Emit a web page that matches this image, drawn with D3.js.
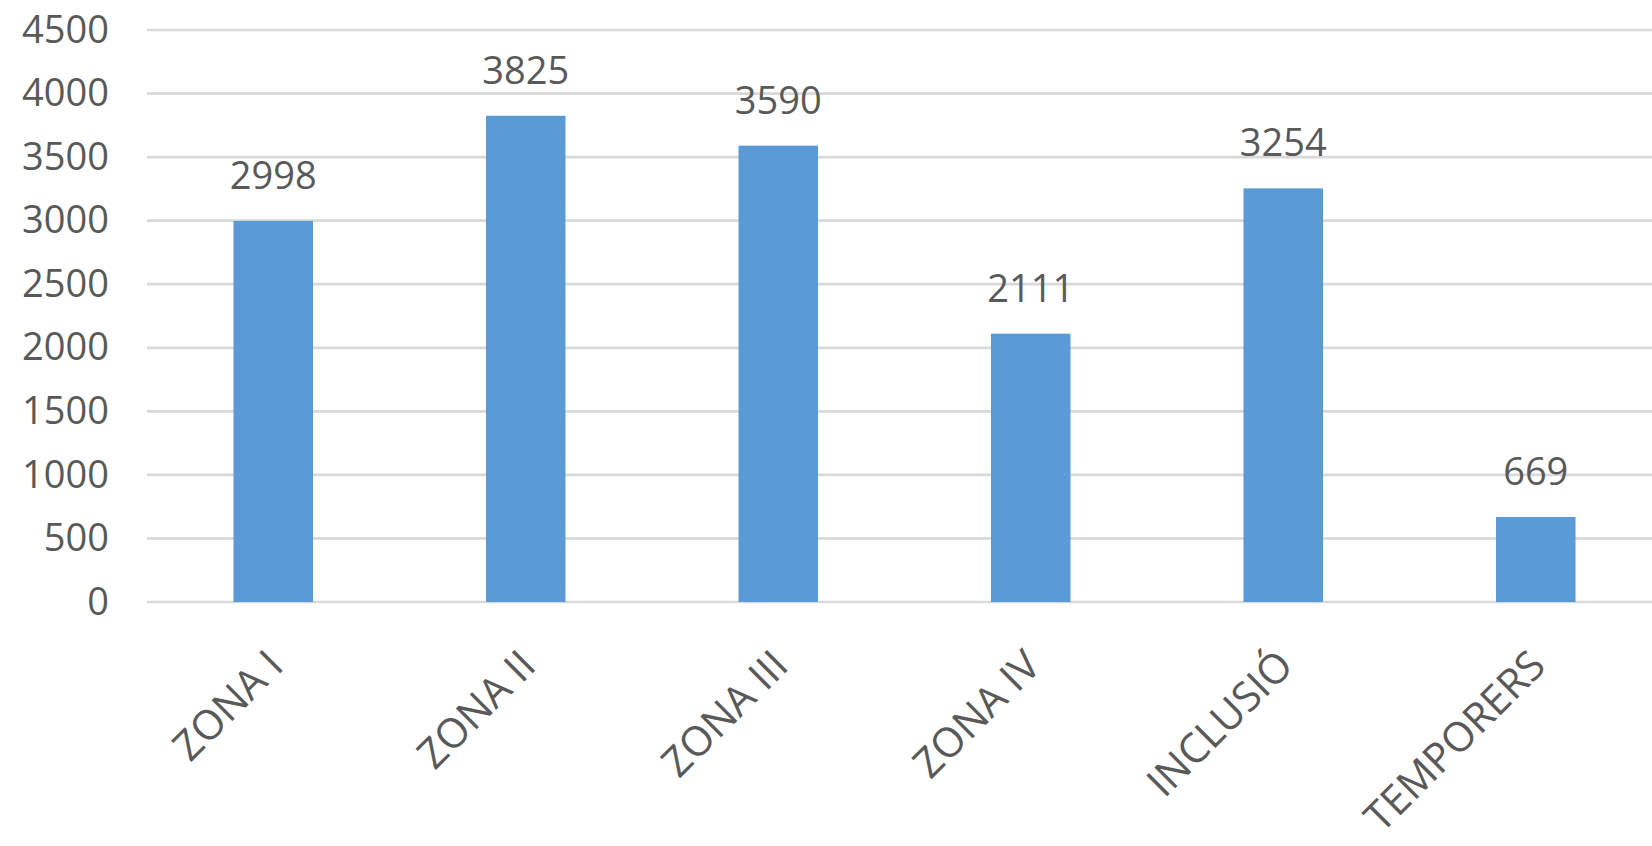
<!DOCTYPE html>
<html>
<head>
<meta charset="utf-8">
<script src="https://cdn.jsdelivr.net/npm/d3@7"></script>
<style>
  body { margin: 0; background: #fff; }
  text { font-family: "Open Sans", sans-serif; fill: #595959; }
  .domain { display: none; }
</style>
</head>
<body>
<script>
// chart data
const categories = ["ZONA I", "ZONA II", "ZONA III", "ZONA IV", "INCLUSIÓ", "TEMPORERS"]
const values = [2998, 3825, 3590, 2111, 3254, 669]
const yTicks = [0, 500, 1000, 1500, 2000, 2500, 3000, 3500, 4000, 4500]

const width = 1652, height = 846
const margin = {top: 30, right: -10, bottom: 244, left: 147}

const svg = d3.select('body').append('svg')
    .attr('width', width)
    .attr('height', height)

// x scale: one band per category
const xScale = d3.scaleBand()
    .domain(categories)
    .range([margin.left, width - margin.right])
    .paddingInner(0.685)
    .paddingOuter(0.3425)

// y scale
const yScale = d3.scaleLinear()
    .domain([0, 4500])
    .range([height - margin.bottom, margin.top])

// gridlines
svg.append('g')
    .selectAll('line')
    .data(yTicks)
    .enter()
    .append('line')
        .attr('x1', margin.left)
        .attr('x2', width - margin.right)
        .attr('y1', d => yScale(d))
        .attr('y2', d => yScale(d))
        .attr('stroke', '#d9d9d9')
        .attr('stroke-width', 2.7)

// y axis labels
svg.append('g')
    .attr('transform', 'translate(' + margin.left + ',0)')
    .call(d3.axisLeft(yScale).tickValues(yTicks).tickFormat(d3.format('d')).tickSize(0).tickPadding(38))
    .selectAll('text')
        .style('font-size', '38px')
        .style('font-family', '"Open Sans", sans-serif')
        .attr('fill', '#595959')

// bars
svg.selectAll('.bar').data(values)
    .enter()
    .append('rect')
        .attr('class', 'bar')
        .attr('x', (d, i) => xScale(categories[i]))
        .attr('y', d => yScale(d))
        .attr('width', xScale.bandwidth())
        .attr('height', d => yScale(0) - yScale(d))
        .attr('fill', '#5b9bd5')

// value labels above bars
svg.selectAll('.val').data(values)
    .enter()
    .append('text')
        .attr('class', 'val')
        .attr('x', (d, i) => xScale(categories[i]) + xScale.bandwidth() / 2)
        .attr('y', d => yScale(d) - 32)
        .attr('text-anchor', 'middle')
        .style('font-size', '38px')
        .text(d => d)

// rotated category labels
svg.selectAll('.cat').data(categories)
    .enter()
    .append('text')
        .attr('class', 'cat')
        .attr('text-anchor', 'end')
        .attr('transform', d => 'translate(' + (xScale(d) + xScale.bandwidth() / 2 + 12) + ',' + (yScale(0) + 66) + ') rotate(-45)')
        .style('font-size', '41px')
        .text(d => d)
</script>
</body>
</html>
